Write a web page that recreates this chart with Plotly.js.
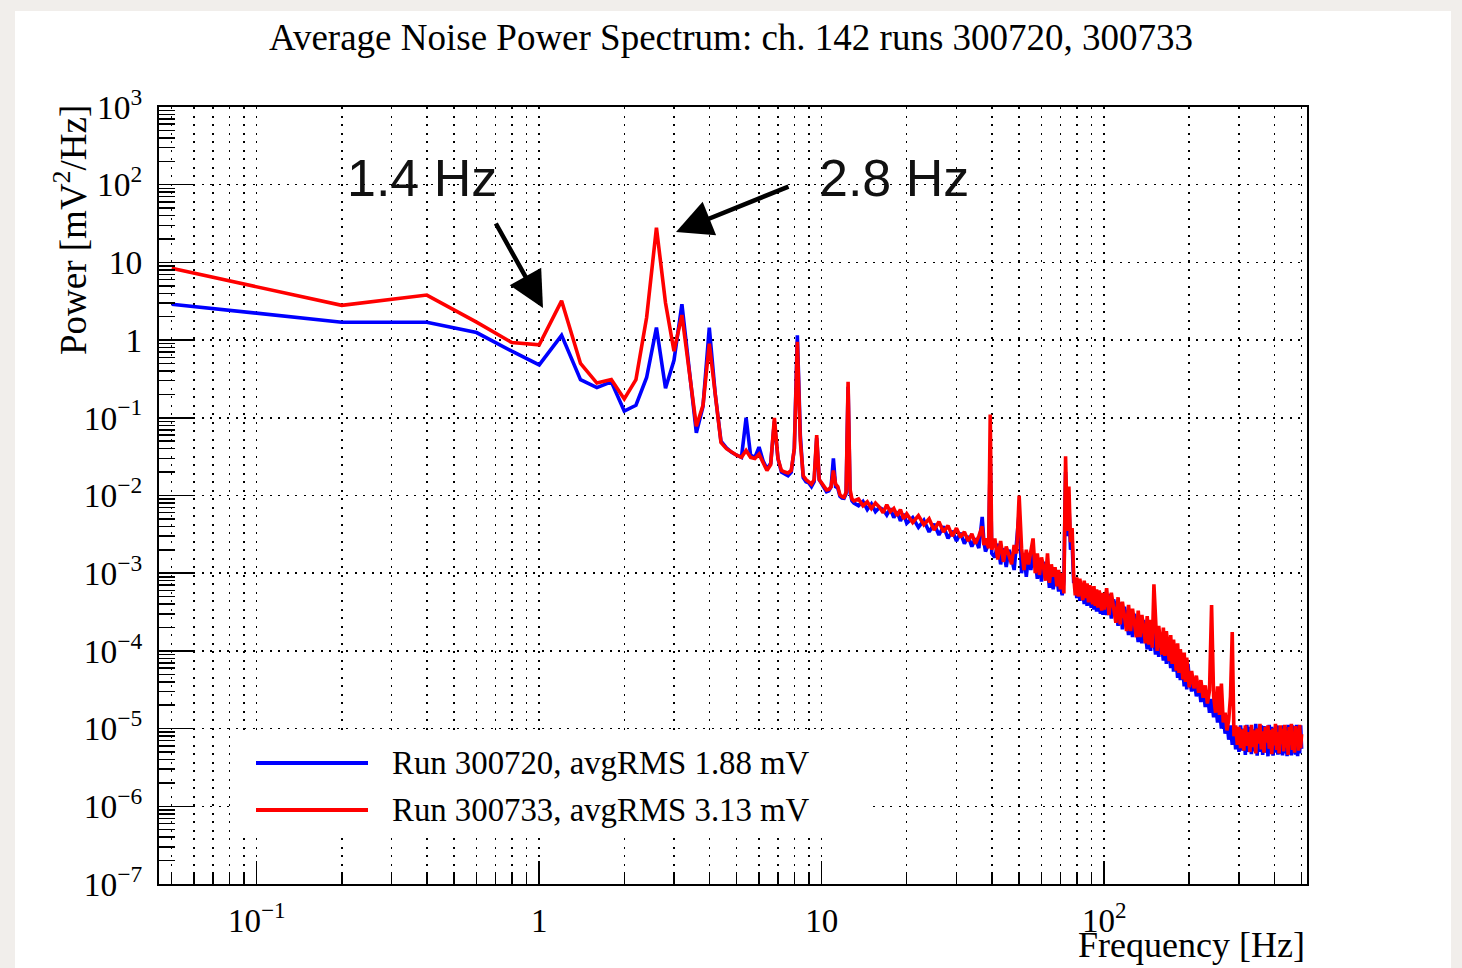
<!DOCTYPE html>
<html>
<head>
<meta charset="utf-8">
<script src="https://cdn.plot.ly/plotly-3.0.1.min.js"></script>
<style>html,body{margin:0;padding:0;background:#f1eeeb;}#chart{width:1462px;height:968px;}</style>
</head>
<body>
<div id="chart"></div>
<script>
// ---------------- data ----------------
const freqA = [0.05,0.2,0.4,0.6,0.8,1.0,1.2,1.4,1.6,1.8,2.0,2.2,2.4,2.6,2.8,3.0,3.2,3.4,3.6,3.8,4.0,4.2,4.4,4.6,4.8,5.0,5.2,5.4,5.6,5.8,6.0,6.2,6.4,6.6,6.8,7.0,7.2,7.4,7.6,7.8,8.0,8.2,8.4,8.6,8.8,9.0,9.2,9.4,9.6,9.8,10.0,10.2,10.4,10.6,10.8,11.0,11.2,11.4,11.6,11.8,12.0,12.2,12.4,12.6,12.8,13.0];
const redA = [8.4,2.8,3.8,1.7,0.93,0.87,3.2,0.5,0.28,0.31,0.175,0.31,1.95,28,3.0,0.72,2.1,0.42,0.078,0.145,0.9,0.2,0.048,0.04,0.036,0.033,0.031,0.038,0.031,0.03,0.034,0.026,0.021,0.025,0.1,0.03,0.021,0.02,0.0195,0.021,0.04,0.95,0.05,0.018,0.016,0.015,0.014,0.016,0.06,0.016,0.0145,0.013,0.0118,0.012,0.013,0.021,0.014,0.013,0.0102,0.0097,0.0095,0.011,0.29,0.012,0.009,0.0085];
const blueA = [2.9,1.7,1.7,1.25,0.72,0.48,1.15,0.31,0.245,0.29,0.122,0.145,0.33,1.45,0.24,0.55,2.9,0.4,0.064,0.14,1.45,0.2,0.05,0.041,0.036,0.033,0.031,0.1,0.033,0.031,0.042,0.028,0.022,0.026,0.09,0.03,0.02,0.019,0.018,0.02,0.04,1.15,0.06,0.017,0.015,0.0145,0.013,0.015,0.055,0.016,0.014,0.0125,0.0112,0.0115,0.013,0.03,0.013,0.0125,0.0098,0.0093,0.0092,0.0105,0.25,0.011,0.0085,0.008];

const freqB = [13.5,14,14.5,15,15.5,16,16.5,17,17.5,18,18.5,19,19.5,20,21,22,23,24,25,26,27,28,29,30,31,32,33,34,35,36,37,37.5,38,39,39.5,40];
const redB = [0.0090,0.0074,0.0083,0.0068,0.0080,0.0071,0.0060,0.0076,0.0062,0.0068,0.0055,0.0066,0.0050,0.0058,0.0045,0.0055,0.0042,0.0050,0.0036,0.0046,0.0034,0.0041,0.0030,0.0038,0.0029,0.0034,0.0026,0.0032,0.0024,0.0030,0.0040,0.0023,0.0028,0.0021,0.11,0.0020];
const blueB = [0.0074,0.0084,0.0066,0.0078,0.0062,0.0070,0.0066,0.0056,0.0068,0.0052,0.0062,0.0047,0.0058,0.0044,0.0052,0.0039,0.0048,0.0034,0.0043,0.0031,0.0040,0.0028,0.0035,0.0026,0.0033,0.0024,0.0030,0.0022,0.0028,0.0021,0.0053,0.0026,0.0019,0.0024,0.03,0.0018];

const freqC = [41,42,43,44,45,46,47,48,49,50,51,52,53,54,55,56,57,58,59,60,61,62,63,64,65,66,67,68,69,70,71,72,73,74,75,76,77,78,79,80,81,82,83,84,85,86,87,88,89,90,91,92,93,94,95,96,97,98,99,100];
const redC = [0.0028,0.0015,0.0026,0.0014,0.0022,0.0017,0.0013,0.0023,0.0018,0.010,0.0021,0.0011,0.0020,0.0013,0.0019,0.0028,0.0010,0.0018,0.00095,0.0016,0.0012,0.0008,0.0018,0.00075,0.0013,0.0009,0.0012,0.00068,0.0011,0.00062,0.0010,0.00055,0.032,0.0035,0.013,0.0025,0.0038,0.0009,0.00052,0.00088,0.0005,0.00085,0.00062,0.00045,0.0008,0.00048,0.00074,0.00042,0.0007,0.00056,0.0004,0.00068,0.00038,0.00062,0.00036,0.0006,0.00046,0.00033,0.00056,0.00034];
const blueC = [0.0016,0.0024,0.0013,0.0021,0.0012,0.0020,0.0016,0.0011,0.0027,0.006,0.0010,0.0018,0.0009,0.0017,0.0011,0.0018,0.0015,0.00085,0.0015,0.00078,0.0014,0.001,0.0012,0.00065,0.0011,0.00062,0.00095,0.0009,0.00058,0.00088,0.00052,0.0008,0.02,0.003,0.008,0.002,0.0025,0.00075,0.0008,0.00048,0.00078,0.00044,0.00072,0.00058,0.0004,0.00068,0.00038,0.00064,0.00046,0.00036,0.0006,0.00034,0.00058,0.00032,0.00054,0.00042,0.0003,0.0005,0.00029,0.00048];

const freqD = [102,104,106,108,110,112,114,116,118,120,122,124,126,128,130,132,134,136,138,140,142,144,146,148,150,152,154,156,158,160,162,164,166,168,170,172,174,176,178,180,182,184,186,188,190,192,194,196,198,200];
const redD = [6.4e-4,2.9e-4,5.6e-4,3.5e-4,2.3e-4,4.9e-4,2.2e-4,4.3e-4,3.0e-4,1.8e-4,3.9e-4,1.8e-4,3.5e-4,2.4e-4,1.5e-4,3.3e-4,1.5e-4,2.9e-4,1.9e-4,1.25e-4,2.8e-4,1.2e-4,2.5e-4,1.1e-4,7.2e-4,2.3e-4,1.0e-4,2.1e-4,1.4e-4,9.0e-5,2.0e-4,8.6e-5,1.8e-4,1.2e-4,7.4e-5,1.6e-4,6.8e-5,1.4e-4,9.0e-5,5.6e-5,1.25e-4,5.2e-5,1.05e-4,6.8e-5,4.3e-5,9.5e-5,4.0e-5,8.2e-5,5.2e-5,3.4e-5];
const blueD = [2.9e-4,5.4e-4,2.6e-4,4.6e-4,3.4e-4,2.1e-4,4.2e-4,1.9e-4,3.7e-4,2.6e-4,1.6e-4,3.4e-4,1.5e-4,3.0e-4,2.1e-4,1.3e-4,2.8e-4,1.25e-4,2.5e-4,1.7e-4,1.05e-4,2.3e-4,1.0e-4,2.1e-4,1.4e-4,9.0e-5,1.9e-4,8.4e-5,1.7e-4,1.2e-4,7.5e-5,1.6e-4,6.8e-5,1.45e-4,9.6e-5,6.0e-5,1.3e-4,5.4e-5,1.15e-4,7.4e-5,4.5e-5,1.0e-4,4.2e-5,8.8e-5,5.8e-5,3.5e-5,7.8e-5,3.2e-5,6.8e-5,4.4e-5];

const freqE = [204,208,212,216,220,224,228,232,236,240,244,248,252,256,260,264,268,272,276,280,284,288,292,296,300,304,308,312,316,320,324,328,332,336,340,344,348,352,356,360,364,368,372,376,380,384,388,392,396,400,404,408,412,416,420,424,428,432,436,440,444,448,452,456,460,464,468,472,476,480,484,488,492,496,500];
const redE = [5.5e-5,3.3e-5,4.8e-5,2.9e-5,4.2e-5,2.5e-5,3.6e-5,2.1e-5,3.1e-5,3.9e-4,2.6e-5,1.6e-5,3.5e-5,1.5e-5,3.8e-5,1.2e-5,1.6e-5,9.5e-6,1.3e-5,2.6e-5,1.75e-4,8e-6,1.1e-5,6.2e-6,1.05e-5,5.6e-6,9.8e-6,5.2e-6,1.1e-5,6.0e-6,9.0e-6,5.0e-6,1.12e-5,5.8e-6,9.5e-6,4.8e-6,1.0e-5,6.4e-6,1.15e-5,5.4e-6,9.2e-6,4.9e-6,1.05e-5,6.6e-6,1.1e-5,5.5e-6,9.6e-6,4.7e-6,1.0e-5,6.1e-6,1.15e-5,5.3e-6,9.0e-6,4.8e-6,1.1e-5,6.3e-6,9.9e-6,5.1e-6,1.12e-5,5.7e-6,9.4e-6,4.6e-6,1.05e-5,6.2e-6,1.15e-5,5.3e-6,9.1e-6,4.9e-6,1.08e-5,6.0e-6,1.0e-5,5.2e-6,1.12e-5,5.6e-6,8.5e-6];
const blueE = [3.0e-5,4.4e-5,2.6e-5,3.8e-5,2.2e-5,3.3e-5,1.9e-5,2.8e-5,1.6e-5,2.4e-5,1.4e-5,2.1e-5,1.2e-5,1.8e-5,1.0e-5,1.5e-5,8.6e-6,1.25e-5,7.2e-6,1.1e-5,6.2e-6,1.05e-5,5.4e-6,1.0e-5,5.0e-6,1.1e-5,5.2e-6,1.0e-5,4.6e-6,1.12e-5,5.0e-6,1.05e-5,4.7e-6,9.8e-6,5.1e-6,1.15e-5,4.5e-6,1.02e-5,5.0e-6,1.1e-5,4.6e-6,1.08e-5,4.9e-6,1.0e-5,4.4e-6,1.12e-5,4.8e-6,1.05e-5,4.5e-6,1.0e-5,4.9e-6,1.1e-5,4.6e-6,1.08e-5,4.7e-6,1.02e-5,4.5e-6,1.1e-5,4.8e-6,1.05e-5,4.4e-6,1.12e-5,4.7e-6,1.0e-5,4.5e-6,1.1e-5,4.8e-6,1.05e-5,4.6e-6,1.12e-5,4.4e-6,1.0e-5,4.8e-6,1.1e-5,5.5e-6];

const seriesNames = ['Run 300720, avgRMS 1.88 mV', 'Run 300733, avgRMS 3.13 mV'];
const seriesColors = ['#0000ff', '#ff0000'];

const xMajorVals = [0.1, 1, 10, 100];
const xMajorText = ['10<sup>\u22121</sup>', '1', '10', '10<sup>2</sup>'];
const xMinorVals = [0.05,0.06,0.07,0.08,0.09,0.2,0.3,0.4,0.5,0.6,0.7,0.8,0.9,2,3,4,5,6,7,8,9,20,30,40,50,60,70,80,90,200,300,400,500];
const yMajorVals = [1e-7,1e-6,1e-5,1e-4,1e-3,1e-2,1e-1,1,10,100,1000];
const yMajorText = ['10<sup>\u22127</sup>','10<sup>\u22126</sup>','10<sup>\u22125</sup>','10<sup>\u22124</sup>','10<sup>\u22123</sup>','10<sup>\u22122</sup>','10<sup>\u22121</sup>','1','10','10<sup>2</sup>','10<sup>3</sup>'];

// ---------------- build ----------------
const freq = freqA.concat(freqB, freqC, freqD, freqE);
const blue = blueA.concat(blueB, blueC, blueD, blueE);
const red = redA.concat(redB, redC, redD, redE);

const yMinorVals = [];
for (let k = -7; k < 3; k++) for (let m = 2; m <= 9; m++) yMinorVals.push(m * Math.pow(10, k));

const SERIF = 'Liberation Serif, Times New Roman, serif';
const SANS = 'Liberation Sans, Arial, sans-serif';

// pixel helpers for layout placement (plot area 159..1307 x 107..884)
const L = 159, R = 155, T = 107, B = 84, W = 1462, H = 968;
const PW = W - L - R, PH = H - T - B;
const px = x => (x - L) / PW;
const py = y => (H - B - y) / PH;

const traces = [
  {x: freq, y: blue, type: 'scatter', mode: 'lines', name: seriesNames[0],
   line: {color: seriesColors[0], width: 3.6}, showlegend: false},
  {x: freq, y: red, type: 'scatter', mode: 'lines', name: seriesNames[1],
   line: {color: seriesColors[1], width: 3.6}, showlegend: false}
];

const gridDash = '2px,6.5px';

const layout = {
  width: W, height: H,
  margin: {l: L, r: R, t: T, b: B, pad: 0},
  paper_bgcolor: '#f1eeeb',
  plot_bgcolor: '#ffffff',
  showlegend: false,
  title: {text: 'Average Noise Power Spectrum: ch. 142 runs 300720, 300733',
          font: {family: SERIF, size: 37, color: '#000'},
          x: 0.5, xref: 'container', y: 1 - 37 / H, yref: 'container', yanchor: 'middle'},
  xaxis: {
    type: 'log', range: [-1.346, 2.718], autorange: false,
    showline: true, mirror: true, linecolor: '#000', linewidth: 2,
    tickmode: 'array', tickvals: xMajorVals, ticktext: xMajorText,
    ticks: 'inside', ticklen: 23, tickwidth: 1.5, tickcolor: '#000',
    ticklabelstandoff: 6,
    tickfont: {family: SERIF, size: 33, color: '#000'},
    showgrid: true, gridcolor: '#000', gridwidth: 1.5, griddash: gridDash,
    zeroline: false,
    minor: {tickmode: 'array', tickvals: xMinorVals, ticks: 'inside', ticklen: 11, tickwidth: 1.5, tickcolor: '#000',
            showgrid: true, gridcolor: '#000', gridwidth: 1.5, griddash: gridDash}
  },
  yaxis: {
    type: 'log', range: [-7, 3], autorange: false,
    showline: true, mirror: true, linecolor: '#000', linewidth: 2,
    tickmode: 'array', tickvals: yMajorVals, ticktext: yMajorText,
    ticks: 'inside', ticklen: 34, tickwidth: 1.5, tickcolor: '#000',
    ticklabelstandoff: 8,
    tickfont: {family: SERIF, size: 33.5, color: '#000'},
    showgrid: true, gridcolor: '#000', gridwidth: 1.5, griddash: gridDash,
    zeroline: false,
    minor: {tickmode: 'array', tickvals: yMinorVals, ticks: 'inside', ticklen: 16, tickwidth: 1.5, tickcolor: '#000', showgrid: false}
  },
  shapes: [
    // white page area
    {type: 'rect', xref: 'paper', yref: 'paper', x0: px(15), x1: px(1451), y0: py(968), y1: py(11),
     fillcolor: '#ffffff', line: {width: 0}, layer: 'below'},
    // legend box (hides grid)
    {type: 'rect', xref: 'paper', yref: 'paper', x0: px(234), x1: px(871), y0: py(833), y1: py(735),
     fillcolor: '#ffffff', line: {width: 0}, layer: 'above'},
    // legend samples
    {type: 'line', xref: 'paper', yref: 'paper', x0: px(256), x1: px(368), y0: py(763), y1: py(763),
     line: {color: seriesColors[0], width: 4}, layer: 'above'},
    {type: 'line', xref: 'paper', yref: 'paper', x0: px(256), x1: px(368), y0: py(810), y1: py(810),
     line: {color: seriesColors[1], width: 4}, layer: 'above'}
  ],
  annotations: [
    {text: seriesNames[0], xref: 'paper', yref: 'paper', x: px(390), y: py(763), xanchor: 'left', yanchor: 'middle',
     showarrow: false, font: {family: SERIF, size: 32.8, color: '#000'}},
    {text: seriesNames[1], xref: 'paper', yref: 'paper', x: px(390), y: py(810), xanchor: 'left', yanchor: 'middle',
     showarrow: false, font: {family: SERIF, size: 32.8, color: '#000'}},
    {text: 'Frequency [Hz]', xref: 'paper', yref: 'paper', x: px(1307), y: py(945), xanchor: 'right', yanchor: 'middle',
     showarrow: false, font: {family: SERIF, size: 36, color: '#000'}},
    {text: 'Power [mV<sup>2</sup>/Hz]', xref: 'paper', yref: 'paper', x: px(70), y: py(230), xanchor: 'center', yanchor: 'middle',
     textangle: -90, showarrow: false, font: {family: SERIF, size: 37, color: '#000'}},
    {text: '1.4 Hz', xref: 'paper', yref: 'paper', x: px(422), y: py(178), xanchor: 'center', yanchor: 'middle',
     showarrow: false, font: {family: SANS, size: 52, color: '#111'}},
    {text: '2.8 Hz', xref: 'paper', yref: 'paper', x: px(894), y: py(178), xanchor: 'center', yanchor: 'middle',
     showarrow: false, font: {family: SANS, size: 52, color: '#111'}},
    {text: '', xref: 'paper', yref: 'paper', x: px(543), y: py(308), ax: 495 - 543, ay: 222 - 308,
     showarrow: true, arrowhead: 2, arrowsize: 1.6, arrowwidth: 4.5, arrowcolor: '#000', standoff: 0},
    {text: '', xref: 'paper', yref: 'paper', x: px(676), y: py(232), ax: 790 - 676, ay: 186 - 232,
     showarrow: true, arrowhead: 2, arrowsize: 1.6, arrowwidth: 4.5, arrowcolor: '#000', standoff: 0}
  ]
};

Plotly.newPlot('chart', traces, layout, {staticPlot: true, displayModeBar: false});
</script>
</body>
</html>
